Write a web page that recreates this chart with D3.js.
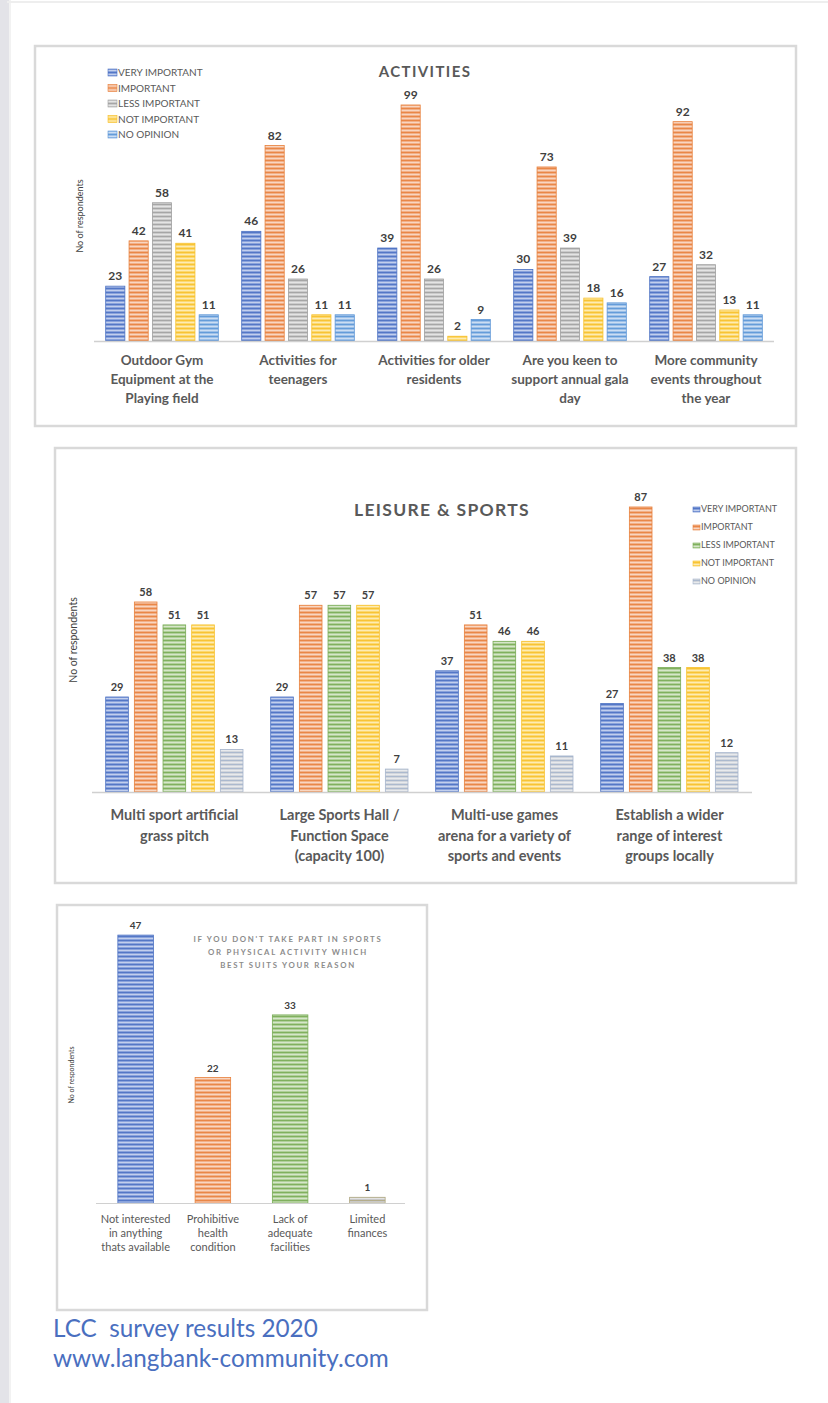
<!DOCTYPE html>
<html>
<head>
<meta charset="utf-8">
<script src="https://cdn.jsdelivr.net/npm/d3@7"></script>
<style>
  body { margin: 0; background: #fff; }
  svg { display: block; font-family: Lato, "Open Sans", sans-serif; }
</style>
</head>
<body>
<div id="page"></div>
<script>
// Chart 1 - activities
var actCategories = [
  ["Outdoor Gym", "Equipment at the", "Playing field"],
  ["Activities for", "teenagers"],
  ["Activities for older", "residents"],
  ["Are you keen to", "support annual gala", "day"],
  ["More community", "events throughout", "the year"]
];
var actSeries = ["VERY IMPORTANT", "IMPORTANT", "LESS IMPORTANT", "NOT IMPORTANT", "NO OPINION"];
var actValues = [
  [23, 42, 58, 41, 11],
  [46, 82, 26, 11, 11],
  [39, 99, 26, 2, 9],
  [30, 73, 39, 18, 16],
  [27, 92, 32, 13, 11]
];

// Chart 2 - leisure & sports
var leiCategories = [
  ["Multi sport artificial", "grass pitch"],
  ["Large Sports Hall /", "Function Space", "(capacity 100)"],
  ["Multi-use games", "arena for a variety of", "sports and events"],
  ["Establish a wider", "range of interest", "groups locally"]
];
var leiSeries = ["VERY IMPORTANT", "IMPORTANT", "LESS IMPORTANT", "NOT IMPORTANT", "NO OPINION"];
var leiValues = [
  [29, 58, 51, 51, 13],
  [29, 57, 57, 57, 7],
  [37, 51, 46, 46, 11],
  [27, 87, 38, 38, 12]
];

// Chart 3 - reasons
var reaCategories = [
  ["Not interested", "in anything", "thats available"],
  ["Prohibitive", "health", "condition"],
  ["Lack of", "adequate", "facilities"],
  ["Limited", "finances"]
];
var reaValues = [47, 22, 33, 1];
var reaTitle = ["IF YOU DON'T TAKE PART IN SPORTS", "OR PHYSICAL ACTIVITY WHICH", "BEST SUITS YOUR REASON"];

var footerLines = ["LCC  survey results 2020", "www.langbank-community.com"];

var svg = d3.select("#page").append("svg")
  .attr("width", 828)
  .attr("height", 1403);

// page chrome
svg.append("rect").attr("x", 0).attr("y", 0).attr("width", 9).attr("height", 1403).attr("fill", "#e3e3e8");
svg.append("rect").attr("x", 9).attr("y", 0).attr("width", 2).attr("height", 1403).attr("fill", "#f2f2f2");
svg.append("rect").attr("x", 7).attr("y", 1).attr("width", 821).attr("height", 2).attr("fill", "#eeeeee");

var defs = svg.append("defs");

// horizontal line pattern fills, like the office "horizontal" pattern
function makePattern(id, color, tint) {
  var p = defs.append("pattern")
    .attr("id", id)
    .attr("patternUnits", "userSpaceOnUse")
    .attr("width", 6)
    .attr("height", 4);
  p.append("rect").attr("width", 6).attr("height", 4).attr("fill", tint);
  p.append("rect").attr("y", 0).attr("width", 6).attr("height", 1).attr("fill", color).attr("opacity", 0.85);
  p.append("rect").attr("y", 2).attr("width", 6).attr("height", 0.8).attr("fill", "#ffffff").attr("opacity", 0.6);
}

var palette = {
  blue: ["#4a70c2", "#8aa3dc"],
  orange: ["#e8803c", "#f2b088"],
  gray: ["#a0a0a0", "#cbcbcb"],
  yellow: ["#f7c02a", "#fcd970"],
  lightblue: ["#5b95d6", "#9dc0e8"],
  green: ["#78ab54", "#b0d09a"],
  grayblue: ["#a5b4cc", "#d2d6dc"],
  grayyellow: ["#b0a880", "#c8c8c8"]
};
Object.keys(palette).forEach(function (k) {
  makePattern("pat-" + k, palette[k][0], palette[k][1]);
});

var actColors = ["blue", "orange", "gray", "yellow", "lightblue"];
var leiColors = ["blue", "orange", "green", "yellow", "grayblue"];
var reaColors = ["blue", "orange", "green", "grayyellow"];

function frame(x, y, w, h) {
  svg.append("rect")
    .attr("x", x).attr("y", y).attr("width", w).attr("height", h)
    .attr("fill", "#fff")
    .attr("stroke", "#d9d9d9")
    .attr("stroke-width", 2.5);
}

function groupedChart(opt) {
  var g = svg.append("g");
  var x0 = d3.scaleBand().domain(d3.range(opt.categories.length)).range(opt.xRange);
  var x1 = d3.scaleBand().domain(d3.range(opt.series.length))
    .range(opt.innerRange).paddingInner(opt.innerPad);
  var y = d3.scaleLinear().domain([0, 100]).range([opt.baseline, opt.baseline - opt.pxPer100]);

  var groups = g.selectAll("g.grp")
    .data(opt.values)
    .enter().append("g")
    .attr("transform", function (d, i) { return "translate(" + x0(i) + ",0)"; });

  groups.selectAll("rect")
    .data(function (d) { return d; })
    .enter().append("rect")
    .attr("x", function (d, j) { return x1(j); })
    .attr("y", function (d) { return y(d); })
    .attr("width", x1.bandwidth())
    .attr("height", function (d) { return y(0) - y(d); })
    .attr("fill", function (d, j) { return "url(#pat-" + opt.colors[j] + ")"; })
    .attr("stroke", function (d, j) { return palette[opt.colors[j]][0]; })
    .attr("stroke-width", 0.8);

  groups.selectAll("text.val")
    .data(function (d) { return d; })
    .enter().append("text")
    .attr("x", function (d, j) { return x1(j) + x1.bandwidth() / 2; })
    .attr("y", function (d) { return y(d) - opt.valOffset; })
    .attr("text-anchor", "middle")
    .attr("font-size", opt.valSize)
    .attr("font-weight", "bold")
    .attr("fill", "#404040")
    .text(function (d) { return d; });

  // axis line
  g.append("line")
    .attr("x1", opt.xRange[0]).attr("x2", opt.xRange[1])
    .attr("y1", opt.baseline + 0.5).attr("y2", opt.baseline + 0.5)
    .attr("stroke", "#d0d0d0").attr("stroke-width", 1.5);

  // category labels
  opt.categories.forEach(function (lines, i) {
    var t = g.append("text")
      .attr("text-anchor", "middle")
      .attr("font-size", opt.catSize)
      .attr("font-weight", "bold")
      .attr("fill", "#595959");
    lines.forEach(function (ln, k) {
      t.append("tspan")
        .attr("x", x0(i) + x0.bandwidth() / 2)
        .attr("y", opt.catY + k * opt.catLine)
        .text(ln);
    });
  });

  // title
  g.append("text")
    .attr("x", opt.titleX).attr("y", opt.titleY)
    .attr("text-anchor", "middle")
    .attr("font-size", opt.titleSize)
    .attr("font-weight", "bold")
    .attr("letter-spacing", opt.titleSpacing)
    .attr("fill", "#595959")
    .text(opt.title);

  // y axis title
  g.append("text")
    .attr("transform", "translate(" + opt.yTitleX + "," + opt.yTitleY + ") rotate(-90)")
    .attr("text-anchor", "middle")
    .attr("font-size", opt.yTitleSize)
    .attr("fill", "#404040")
    .text("No of respondents");

  // legend
  var leg = g.selectAll("g.leg")
    .data(opt.series)
    .enter().append("g")
    .attr("transform", function (d, j) {
      return "translate(" + opt.legX + "," + (opt.legY + j * opt.legStep) + ")";
    });
  leg.append("rect")
    .attr("x", 0).attr("y", -opt.legSw + 1)
    .attr("width", opt.legSw + 1).attr("height", opt.legSw - 1)
    .attr("fill", function (d, j) { return "url(#pat-" + opt.colors[j] + ")"; })
    .attr("stroke", function (d, j) { return palette[opt.colors[j]][0]; })
    .attr("stroke-width", 0.6);
  leg.append("text")
    .attr("x", opt.legSw + 2)
    .attr("y", 0)
    .attr("font-size", opt.legSize)
    .attr("fill", "#595959")
    .text(function (d) { return d; });
}

frame(35, 46, 761, 380);
groupedChart({
  categories: actCategories, series: actSeries, values: actValues, colors: actColors,
  xRange: [94, 774], innerRange: [11.7, 124.3], innerPad: 0.18,
  baseline: 341, pxPer100: 238.4,
  valOffset: 6, valSize: 12,
  catY: 365, catLine: 19, catSize: 13.5,
  title: "ACTIVITIES", titleX: 425, titleY: 77, titleSize: 15, titleSpacing: 1.4,
  yTitleX: 83, yTitleY: 216, yTitleSize: 9,
  legX: 108, legY: 76, legStep: 15.5, legSw: 8, legSize: 10
});

frame(55, 448, 741, 435);
groupedChart({
  categories: leiCategories, series: leiSeries, values: leiValues, colors: leiColors,
  xRange: [92, 752], innerRange: [13.7, 151], innerPad: 0.21,
  baseline: 792, pxPer100: 327.6,
  valOffset: 6, valSize: 11,
  catY: 820, catLine: 20.5, catSize: 14.5,
  title: "LEISURE & SPORTS", titleX: 442, titleY: 516, titleSize: 17.5, titleSpacing: 1.3,
  yTitleX: 77, yTitleY: 640, yTitleSize: 10.5,
  legX: 693, legY: 512, legStep: 18, legSw: 6, legSize: 9
});

// Chart 3 - single series
frame(57, 905, 370, 405);
(function () {
  var g = svg.append("g");
  var baseline = 1203;
  var x = d3.scaleBand().domain(d3.range(reaValues.length)).range([97, 406])
    .paddingInner(0.54).paddingOuter(0.27);
  var y = d3.scaleLinear().domain([0, 50]).range([baseline, baseline - 285]);

  g.selectAll("rect.bar")
    .data(reaValues)
    .enter().append("rect")
    .attr("x", function (d, i) { return x(i); })
    .attr("y", function (d) { return y(d); })
    .attr("width", x.bandwidth())
    .attr("height", function (d) { return y(0) - y(d); })
    .attr("fill", function (d, i) { return "url(#pat-" + reaColors[i] + ")"; })
    .attr("stroke", function (d, i) { return palette[reaColors[i]][0]; })
    .attr("stroke-width", 0.8);

  g.selectAll("text.val")
    .data(reaValues)
    .enter().append("text")
    .attr("x", function (d, i) { return x(i) + x.bandwidth() / 2; })
    .attr("y", function (d) { return y(d) - 6; })
    .attr("text-anchor", "middle")
    .attr("font-size", 10)
    .attr("font-weight", "bold")
    .attr("fill", "#404040")
    .text(function (d) { return d; });

  g.append("line")
    .attr("x1", 96).attr("x2", 405)
    .attr("y1", baseline + 0.5).attr("y2", baseline + 0.5)
    .attr("stroke", "#d0d0d0").attr("stroke-width", 1.2);

  reaCategories.forEach(function (lines, i) {
    var t = g.append("text")
      .attr("text-anchor", "middle")
      .attr("font-size", 11)
      .attr("fill", "#595959");
    lines.forEach(function (ln, k) {
      t.append("tspan")
        .attr("x", x(i) + x.bandwidth() / 2)
        .attr("y", 1223 + k * 14)
        .text(ln);
    });
  });

  reaTitle.forEach(function (ln, k) {
    g.append("text")
      .attr("x", 288).attr("y", 942 + k * 13)
      .attr("text-anchor", "middle")
      .attr("font-size", 7.8)
      .attr("font-weight", "bold")
      .attr("letter-spacing", 1.7)
      .attr("fill", "#8c8c8c")
      .text(ln);
  });

  g.append("text")
    .attr("transform", "translate(74,1075) rotate(-90)")
    .attr("text-anchor", "middle")
    .attr("font-size", 7)
    .attr("fill", "#404040")
    .text("No of respondents");
})();

// footer
footerLines.forEach(function (ln, k) {
  svg.append("text")
    .attr("x", 53).attr("y", 1337 + k * 30)
    .attr("font-size", 24.3)
    .attr("fill", "#4a6fbf")
    .style("white-space", "pre")
    .text(ln);
});
</script>
</body>
</html>
